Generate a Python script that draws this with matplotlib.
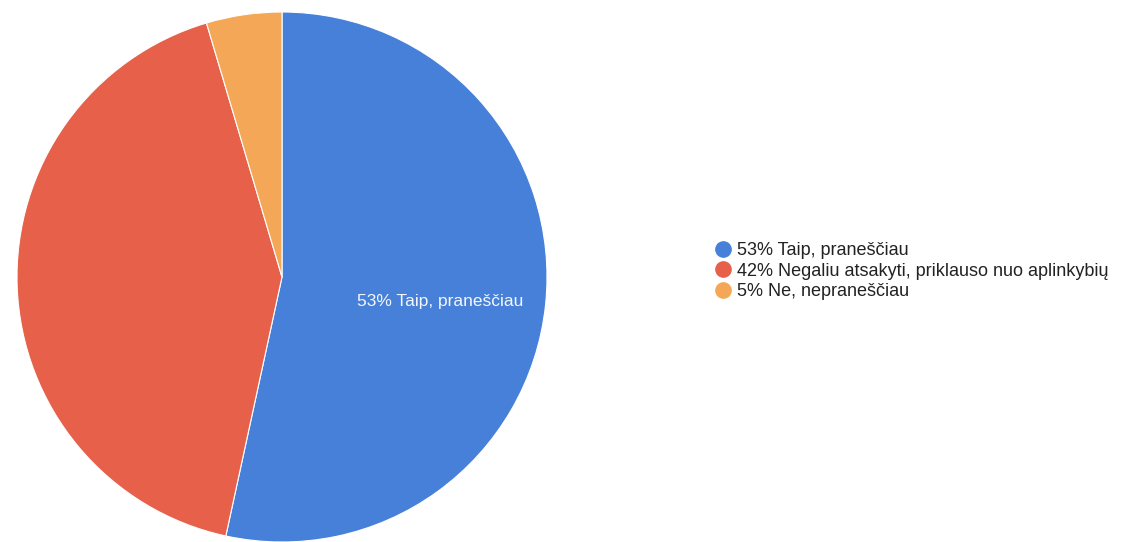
import matplotlib
matplotlib.use("Agg")
import matplotlib.pyplot as plt
from matplotlib.lines import Line2D

plt.rcParams['font.family'] = ['Liberation Sans', 'DejaVu Sans']

labels = ["Taip, praneščiau", "Negaliu atsakyti, priklauso nuo aplinkybių", "Ne, nepraneščiau"]
legend_labels = ["53% Taip, praneščiau", "42% Negaliu atsakyti, priklauso nuo aplinkybių", "5% Ne, nepraneščiau"]
values = [53.4, 42.0, 4.6]
colors = ["#4680d8", "#e6604a", "#f4a857"]

W, H = 1146, 542
fig = plt.figure(figsize=(W / 100, H / 100), dpi=100)
cx, cy, r = 282, 277, 265
ax = fig.add_axes([(cx - r) / W, (H - cy - r) / H, 2 * r / W, 2 * r / H])

def fmt(p):
    return "53% Taip, praneščiau" if p > 50 else ""

wedges, texts, autotexts = ax.pie(values, colors=colors, startangle=90, counterclock=False,
                                  autopct=fmt, pctdistance=0.6,
                                  wedgeprops=dict(edgecolor="white", linewidth=0.8),
                                  textprops=dict(color="#f4f6fb", fontsize=12.5))
for t in autotexts:
    x, y = t.get_position()
    t.set_position((x, y - 0.03))
ax.set_xlim(-1, 1)
ax.set_ylim(-1, 1)
ax.set_aspect("equal")
ax.axis("off")

handles = [Line2D([0], [0], marker="o", linestyle="", markersize=11,
                  markerfacecolor=c, markeredgecolor=c) for c in colors]
leg = fig.legend(handles, legend_labels, loc="center left", bbox_to_anchor=(705 / W, 1 - 271 / H),
                 frameon=False, fontsize=13, handletextpad=0.25, labelspacing=0.2,
                 handlelength=1.0, borderpad=0)
for t in leg.get_texts():
    t.set_color("#222222")

fig.savefig("out.png", dpi=100)
